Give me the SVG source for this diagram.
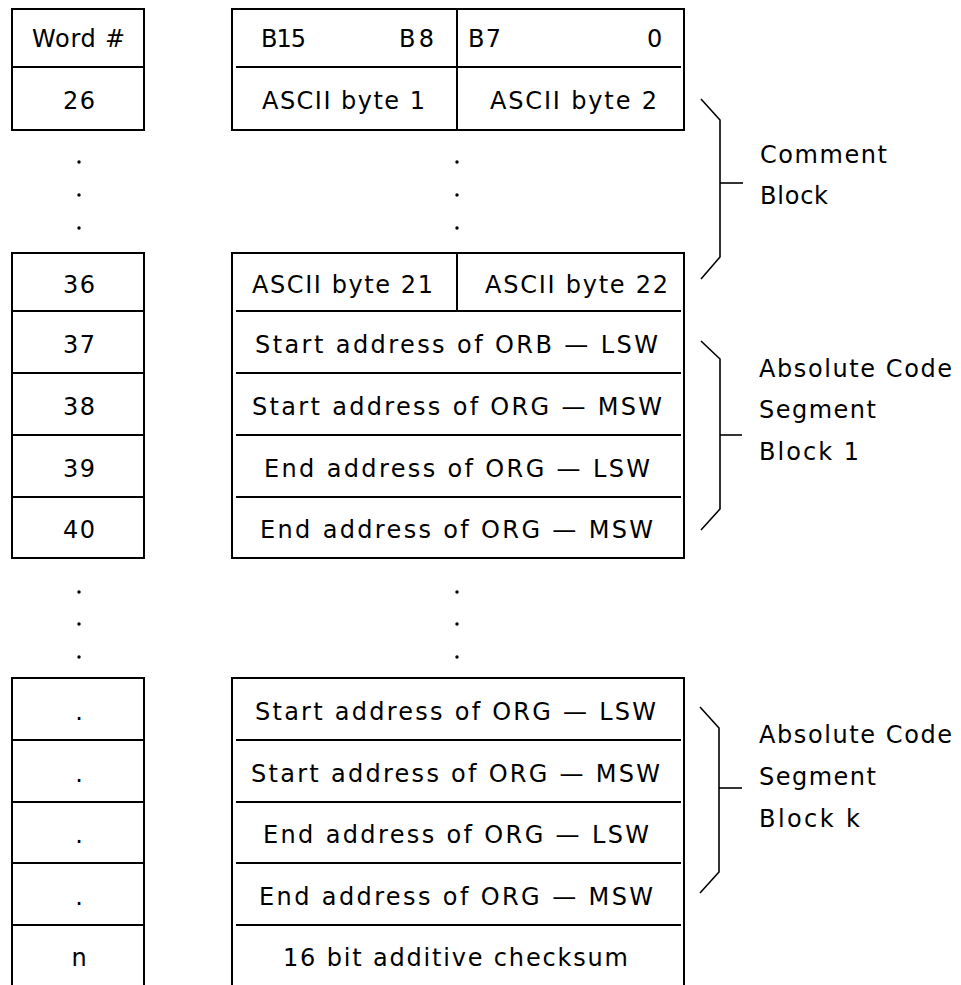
<svg xmlns="http://www.w3.org/2000/svg" width="961" height="985" viewBox="0 0 961 985">
<style>
  .box { fill: none; stroke: #000; stroke-width: 2; }
  .ln { stroke: #000; stroke-width: 2; fill: none; }
  .br { stroke: #000; stroke-width: 1.6; fill: none; stroke-linejoin: miter; }
  text { font-family: "DejaVu Sans", "Liberation Sans", sans-serif; font-size: 24px; fill: #000; }
  .c { text-anchor: middle; }
  .dot { fill: #000; }
</style>
<rect width="961" height="985" fill="#fff"/>

<!-- Left column: word numbers -->
<g id="word-col-top">
  <rect class="box" x="12" y="9" width="132" height="121"/>
  <line class="ln" x1="12" y1="67" x2="144" y2="67"/>
  <text class="c" x="78.5" y="47" textLength="93" lengthAdjust="spacing">Word #</text>
  <text class="c" x="79" y="109" textLength="32" lengthAdjust="spacing">26</text>
</g>
<g id="word-col-dots1">
  <circle class="dot" cx="79" cy="162" r="1.7"/>
  <circle class="dot" cx="79" cy="195" r="1.7"/>
  <circle class="dot" cx="79" cy="228" r="1.7"/>
</g>
<g id="word-col-mid">
  <rect class="box" x="12" y="253" width="132" height="305"/>
  <line class="ln" x1="12" y1="311" x2="144" y2="311"/>
  <line class="ln" x1="12" y1="373" x2="144" y2="373"/>
  <line class="ln" x1="12" y1="435" x2="144" y2="435"/>
  <line class="ln" x1="12" y1="497" x2="144" y2="497"/>
  <text class="c" x="79" y="293" textLength="32" lengthAdjust="spacing">36</text>
  <text class="c" x="79" y="353" textLength="32" lengthAdjust="spacing">37</text>
  <text class="c" x="79" y="415" textLength="32" lengthAdjust="spacing">38</text>
  <text class="c" x="79" y="477" textLength="32" lengthAdjust="spacing">39</text>
  <text class="c" x="79" y="538" textLength="32" lengthAdjust="spacing">40</text>
</g>
<g id="word-col-dots2">
  <circle class="dot" cx="79" cy="592" r="1.7"/>
  <circle class="dot" cx="79" cy="624" r="1.7"/>
  <circle class="dot" cx="79" cy="657" r="1.7"/>
</g>
<g id="word-col-bottom">
  <path class="ln" d="M12,985 V678 H144 V985"/>
  <line class="ln" x1="12" y1="740" x2="144" y2="740"/>
  <line class="ln" x1="12" y1="802" x2="144" y2="802"/>
  <line class="ln" x1="12" y1="863" x2="144" y2="863"/>
  <line class="ln" x1="12" y1="925" x2="144" y2="925"/>
  <text class="c" x="79" y="720">.</text>
  <text class="c" x="79" y="782">.</text>
  <text class="c" x="79" y="843">.</text>
  <text class="c" x="79" y="905">.</text>
  <text class="c" x="79" y="966">n</text>
</g>

<!-- Right table -->
<g id="table-top">
  <rect class="box" x="232" y="9" width="452" height="121"/>
  <line class="ln" x1="457" y1="9" x2="457" y2="130"/>
  <line class="ln" x1="236" y1="67" x2="681" y2="67"/>
  <text x="261" y="47" textLength="45" lengthAdjust="spacing">B15</text>
  <text x="399" y="47" textLength="35" lengthAdjust="spacing">B8</text>
  <text x="468" y="47" textLength="33" lengthAdjust="spacing">B7</text>
  <text x="647" y="47">0</text>
  <text class="c" x="343.5" y="109" textLength="163" lengthAdjust="spacing">ASCII byte 1</text>
  <text class="c" x="573.5" y="109" textLength="167" lengthAdjust="spacing">ASCII byte 2</text>
</g>
<g id="table-dots1">
  <circle class="dot" cx="457" cy="162" r="1.7"/>
  <circle class="dot" cx="457" cy="195" r="1.7"/>
  <circle class="dot" cx="457" cy="228" r="1.7"/>
</g>
<g id="table-mid">
  <rect class="box" x="232" y="253" width="452" height="305"/>
  <line class="ln" x1="457" y1="253" x2="457" y2="311"/>
  <line class="ln" x1="236" y1="311" x2="681" y2="311"/>
  <line class="ln" x1="236" y1="373" x2="681" y2="373"/>
  <line class="ln" x1="236" y1="435" x2="681" y2="435"/>
  <line class="ln" x1="236" y1="497" x2="681" y2="497"/>
  <text class="c" x="342.5" y="293" textLength="181" lengthAdjust="spacing">ASCII byte 21</text>
  <text class="c" x="576.5" y="293" textLength="183" lengthAdjust="spacing">ASCII byte 22</text>
  <text class="c" x="456.5" y="353" textLength="403" lengthAdjust="spacing">Start address of ORB — LSW</text>
  <text class="c" x="457" y="415" textLength="410" lengthAdjust="spacing">Start address of ORG — MSW</text>
  <text class="c" x="457" y="477" textLength="386" lengthAdjust="spacing">End address of ORG — LSW</text>
  <text class="c" x="456.5" y="538" textLength="393" lengthAdjust="spacing">End address of ORG — MSW</text>
</g>
<g id="table-dots2">
  <circle class="dot" cx="457" cy="592" r="1.7"/>
  <circle class="dot" cx="457" cy="624" r="1.7"/>
  <circle class="dot" cx="457" cy="657" r="1.7"/>
</g>
<g id="table-bottom">
  <path class="ln" d="M232,985 V678 H684 V985"/>
  <line class="ln" x1="236" y1="740" x2="681" y2="740"/>
  <line class="ln" x1="236" y1="802" x2="681" y2="802"/>
  <line class="ln" x1="236" y1="863" x2="681" y2="863"/>
  <line class="ln" x1="236" y1="925" x2="681" y2="925"/>
  <text class="c" x="455.5" y="720" textLength="401" lengthAdjust="spacing">Start address of ORG — LSW</text>
  <text class="c" x="455.5" y="782" textLength="409" lengthAdjust="spacing">Start address of ORG — MSW</text>
  <text class="c" x="456" y="843" textLength="386" lengthAdjust="spacing">End address of ORG — LSW</text>
  <text class="c" x="456" y="905" textLength="394" lengthAdjust="spacing">End address of ORG — MSW</text>
  <text class="c" x="455.5" y="966" textLength="345" lengthAdjust="spacing">16 bit additive checksum</text>
</g>

<!-- Braces (connectors) -->
<g id="connectors">
  <polyline class="br" points="701,99 720,120 720,257 701,279"/>
  <line class="br" x1="720" y1="183" x2="743" y2="183"/>
  <polyline class="br" points="701,341 720,359 720,509 701,530"/>
  <line class="br" x1="720" y1="435" x2="742" y2="435"/>
  <polyline class="br" points="700,707 719,728 719,872 700,893"/>
  <line class="br" x1="719" y1="788" x2="742" y2="788"/>
</g>

<!-- Brace labels -->
<g id="label-comment">
  <text x="760" y="163" textLength="127" lengthAdjust="spacing">Comment</text>
  <text x="760" y="204" textLength="68" lengthAdjust="spacing">Block</text>
</g>
<g id="label-block1">
  <text x="759" y="377" textLength="193" lengthAdjust="spacing">Absolute Code</text>
  <text x="759" y="418" textLength="117" lengthAdjust="spacing">Segment</text>
  <text x="759" y="460" textLength="100" lengthAdjust="spacing">Block 1</text>
</g>
<g id="label-blockk">
  <text x="759" y="743" textLength="193" lengthAdjust="spacing">Absolute Code</text>
  <text x="759" y="785" textLength="117" lengthAdjust="spacing">Segment</text>
  <text x="759" y="827" textLength="101" lengthAdjust="spacing">Block k</text>
</g>
</svg>
